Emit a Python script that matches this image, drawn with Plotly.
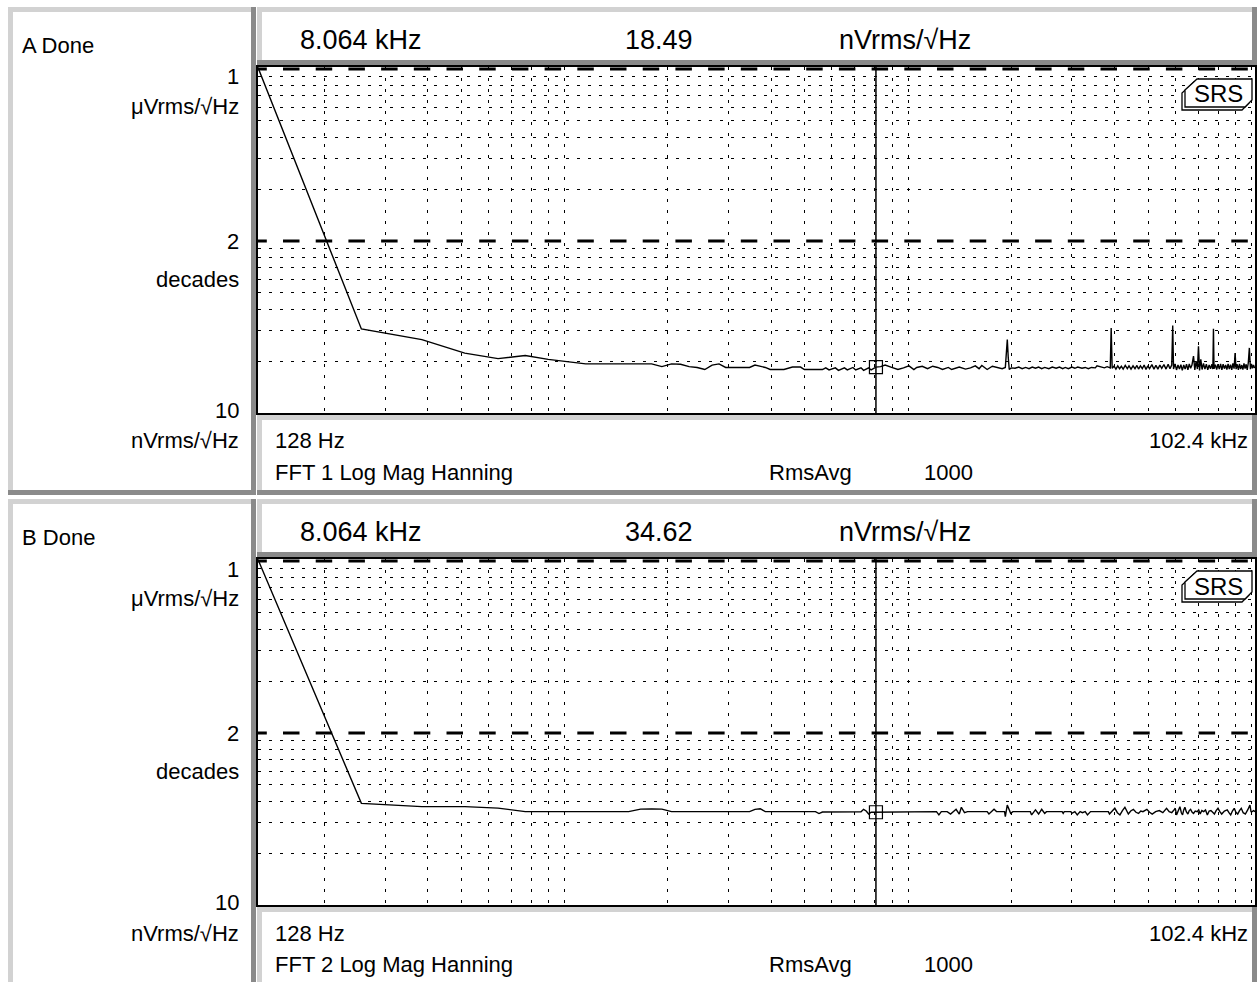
import math
import plotly.graph_objects as go

W, H = 1257, 982
FONT = "Liberation Sans, Arial, Helvetica, sans-serif"

# ---------------- data ----------------
start_hz = 128
stop_hz = 102400
cursor_hz = 8064
cursor_val_a = 18.49
cursor_val_b = 34.62
decade_levels = [100, 1000]
y_grid_vals = [20, 30, 40, 50, 60, 70, 80, 90, 200, 300, 400, 500, 600, 700, 800, 900]
x_grid_vals = [200, 300, 400, 500, 600, 700, 800, 900,
               1000, 2000, 3000, 4000, 5000, 6000, 7000, 8000, 9000,
               10000, 20000, 30000, 40000, 50000, 60000, 70000, 80000, 90000, 100000]

freq_a = [128, 256, 384, 512, 640, 768, 896, 1024, 1152, 1792, 1920, 2048, 2176, 2304, 2432, 2560,
          2688, 2816, 2944, 3456, 3584, 3840, 3968, 4352, 4608, 4864, 4992, 5632, 5760, 5888, 6144,
          6272, 6528, 6656, 6912, 7040, 7296, 7424, 7680, 7808, 8064, 8320, 8576, 8960, 9344, 9700,
          10060, 10400, 10600, 11000, 11400, 11800, 12200, 12600, 13100, 13400, 14100, 14700, 15200,
          15700, 16100, 16400, 17000, 17600, 18200, 18800, 19200, 19456, 19584, 19712, 19968, 20500,
          21000, 21500, 22000, 22500, 23000, 23500, 24000, 24500, 25000, 25700, 26300, 27000, 27600,
          28200, 28700, 29300, 30000, 30600, 31200, 32100, 32800, 33500, 34200, 35100, 35500, 36500,
          37300, 38000, 38800, 39040, 39300, 39800, 40300, 40800, 41300, 41800, 42300, 42900, 43500,
          44000, 44600, 45200, 45800, 46400, 46900, 47500, 48100, 48700, 49300, 49900, 50500, 51300,
          52000, 52700, 53400, 54100, 54800, 55600, 56400, 57200, 57900, 58600, 58980, 59300, 59900,
          60500, 61100, 61700, 62300, 62900, 63500, 64100, 64700, 65300, 65900, 66500, 67100, 67800,
          68400, 69000, 69600, 70100, 70600, 71200, 71800, 72500, 73200, 73900, 74600, 75300, 76000,
          76700, 77200, 77500, 77800, 78500, 79200, 79900, 80600, 81300, 82000, 82700, 83400, 84100,
          84800, 85500, 86200, 86900, 87600, 88300, 89000, 89600, 90200, 90900, 91600, 92300, 93000,
          93700, 94400, 95100, 95800, 96500, 97200, 97900, 98600, 99300, 100000, 100700, 101400,
          102000, 102400]
mag_a = [1020, 30.8, 26.7, 22.3, 20.7, 21.6, 20.5, 19.8, 19.3, 19.3, 18.6, 19.3, 19.2, 18.6, 18.4, 17.9,
         19.0, 19.3, 18.4, 18.4, 19.0, 18.4, 17.9, 17.9, 18.5, 18.5, 17.9, 17.9, 18.3, 17.8, 18.3,
         17.7, 18.3, 17.8, 18.4, 17.8, 18.3, 17.7, 18.3, 17.8, 18.49, 18.6, 19.0, 18.4, 17.9, 18.3,
         18.8, 17.9, 18.4, 18.7, 18.1, 18.7, 18.4, 17.9, 18.4, 17.9, 18.5, 18.0, 18.3,
         18.8, 18.1, 18.9, 17.9, 18.7, 18.3, 18.1, 18.4, 26.7, 20.9, 17.9, 18.3, 18.2,
         18.5, 18.1, 18.4, 18.1, 18.5, 18.2, 18.5, 18.1, 18.4, 18.1, 18.5, 18.2, 18.5,
         18.1, 18.4, 18.1, 18.5, 18.2, 18.5, 18.2, 18.4, 18.1, 18.4, 18.3, 18.8, 18.5,
         18.3, 18.6, 18.3, 31.2, 18.2, 18.7, 18.0, 18.8, 18.1, 18.7, 18.0, 18.9, 18.1,
         18.8, 18.0, 18.8, 18.1, 18.9, 18.0, 18.8, 18.1, 19.0, 17.9, 18.8, 18.1, 19.1,
         18.0, 18.9, 18.0, 19.0, 18.2, 19.1, 18.0, 19.2, 18.1, 19.0, 32.3, 18.0, 19.3,
         17.8, 19.0, 18.0, 19.1, 17.7, 19.0, 18.0, 19.2, 17.8, 19.3, 18.2, 19.0, 21.4,
         17.8, 20.0, 18.0, 24.4, 17.7, 20.5, 17.9, 19.4, 18.0, 19.2, 17.8, 19.0, 18.1,
         19.2, 18.0, 30.9, 18.1, 19.1, 17.9, 19.2, 18.0, 19.3, 17.8, 19.2, 18.1, 19.0,
         17.9, 19.3, 18.0, 19.1, 17.8, 19.4, 18.1, 22.3, 18.0, 19.2, 17.8, 19.3, 18.0,
         19.0, 17.9, 19.4, 18.1, 19.2, 17.8, 19.6, 23.9, 18.0, 19.3, 18.2, 19.0,
         18.3, 18.6]

freq_b = [128, 256, 384, 512, 640, 768, 1536, 1664, 1792, 1920, 2048, 3456, 3584, 3712, 3840, 5376,
          5504, 5632, 7296, 7424, 7552, 7680, 7808, 8064, 8192, 12100, 12300, 12500, 13000, 13300,
          13800, 14100, 14300, 14600, 14900, 17000, 17200, 17800, 18100, 19100, 19200, 19450, 19900,
          20200, 22700, 22900, 23500, 24000, 24500, 25000, 25300, 28100, 28300, 28500, 29800, 30000,
          30600, 31100, 31700, 32200, 32800, 33300, 34000, 38300, 38600, 39300, 40000, 40700, 41400,
          42100, 42800, 43800, 44500, 45300, 46100, 46900, 47600, 48300, 49600, 50500, 51400, 52600,
          53900, 55200, 56600, 57600, 58600, 59300, 60000, 60500, 61200, 61900, 62500, 63000, 63500,
          64000, 64600, 65300, 65900, 66500, 67200, 67800, 68600, 69500, 70200, 70900, 71700, 72600,
          73500, 74400, 75300, 76200, 77100, 78000, 78900, 79900, 80900, 81900, 83400, 85000, 86000,
          87000, 88000, 89100, 90100, 91200, 92300, 93400, 94600, 96000, 97500, 99000, 99700, 100500,
          101500, 102400]
mag_b = [1020, 39.0, 37.3, 37.3, 36.6, 34.9, 34.9, 36.1, 36.2, 36.1, 34.9, 34.9, 36.0, 36.3, 34.9, 34.9,
         34.0, 34.7, 34.8, 36.0, 35.2, 33.8, 34.6, 34.62, 34.9, 34.9, 33.4, 34.9, 34.9, 33.8,
         36.0, 33.8, 37.0, 34.4, 34.9, 34.9, 33.8, 36.0, 34.9, 34.9, 32.6, 38.1, 34.1,
         34.9, 34.9, 33.4, 35.7, 33.8, 36.0, 34.1, 34.9, 34.9, 34.1, 34.9, 34.9, 34.1,
         34.9, 33.4, 34.9, 34.4, 34.9, 33.4, 34.9, 34.9, 33.8, 35.2, 36.5, 34.4, 33.4,
         35.4, 37.0, 33.8, 35.2, 36.0, 34.6, 34.1, 35.2, 34.9, 36.0, 34.6, 33.8, 34.9,
         35.4, 34.4, 36.5, 34.9, 34.4, 35.4, 36.5, 33.4, 35.2, 37.3, 34.4, 33.4, 35.7,
         37.0, 34.9, 33.8, 35.4, 36.0, 34.6, 34.1, 35.2, 34.9, 35.7, 33.8, 35.4, 34.9,
         35.7, 33.4, 35.2, 35.4, 34.6, 33.8, 35.4, 36.5, 34.9, 33.8, 35.2, 35.7, 34.4,
         33.4, 35.2, 36.5, 34.6, 33.8, 35.4, 36.5, 34.4, 33.8, 35.7, 38.1, 34.9, 34.9,
         35.4, 34.9]

# ---------------- layout helpers (pixel -> paper) ----------------
def X(px):
    return px / W


def Y(py):
    return 1 - py / H


PLOT_L, PLOT_R = 258, 1255
PLOT_T, PLOT_B = 66.5, 413          # panel A, B is shifted by OFF
OFF = 492
DEC_PX = 172
y_top_log = 1 + (PLOT_B - PLOT_T) / DEC_PX
dash_start_hz = start_hz * 10 ** (-7.7 / 344)

LIGHT = "#d2d2d2"
DARK = "#8a8a8a"

fig = go.Figure()
shapes = []
annotations = []


def bevel(x0, y0, x1, y1, w=5):
    shapes.extend([
        dict(type="rect", xref="paper", yref="paper", x0=X(x0), x1=X(x1), y0=Y(y0), y1=Y(y0 + w),
             fillcolor=LIGHT, line=dict(width=0), layer="above"),
        dict(type="rect", xref="paper", yref="paper", x0=X(x0), x1=X(x0 + w), y0=Y(y0), y1=Y(y1),
             fillcolor=LIGHT, line=dict(width=0), layer="above"),
        dict(type="rect", xref="paper", yref="paper", x0=X(x0), x1=X(x1), y0=Y(y1 - w), y1=Y(y1),
             fillcolor=DARK, line=dict(width=0), layer="above"),
        dict(type="rect", xref="paper", yref="paper", x0=X(x1 - w), x1=X(x1), y0=Y(y0), y1=Y(y1),
             fillcolor=DARK, line=dict(width=0), layer="above"),
    ])


def text(s, x, y, size=22, anchor="left"):
    annotations.append(dict(text=s, x=X(x), y=Y(y), xref="paper", yref="paper", xanchor=anchor,
                            yanchor="middle", showarrow=False,
                            font=dict(family=FONT, size=size, color="black")))


def path(pts):
    d = "M " + " L ".join(f"{X(a):.5f},{Y(b):.5f}" for a, b in pts) + " Z"
    return d


panels = [
    dict(off=0, freq=freq_a, mag=mag_a, cur=cursor_val_a, label="A Done",
         fft="FFT 1 Log Mag Hanning", xa="x", ya="y", xname="xaxis", yname="yaxis"),
    dict(off=OFF, freq=freq_b, mag=mag_b, cur=cursor_val_b, label="B Done",
         fft="FFT 2 Log Mag Hanning", xa="x2", ya="y2", xname="xaxis2", yname="yaxis2"),
]

for p in panels:
    o = p["off"]
    # bevel boxes
    bevel(8, 7 + o, 256, 495 + o)
    bevel(257, 7 + o, 1257, 65 + o)
    bevel(257, 415 + o, 1257, 495 + o)

    axis_common = dict(showticklabels=False, ticks="", showgrid=True, gridcolor="black",
                       gridwidth=1, zeroline=False, showline=True, linecolor="black",
                       linewidth=2, mirror=True, fixedrange=True)
    fig.update_layout(**{
        p["xname"]: dict(type="log", range=[math.log10(start_hz), math.log10(stop_hz)],
                         domain=[X(PLOT_L), X(PLOT_R)], tickvals=x_grid_vals,
                         griddash="3px,8px", anchor=p["ya"], **axis_common),
        p["yname"]: dict(type="log", range=[1, y_top_log],
                         domain=[Y(PLOT_B + o), Y(PLOT_T + o)], tickvals=y_grid_vals,
                         griddash="3px,8px", anchor=p["xa"], **axis_common),
    })

    # dashed decade lines
    for lvl in decade_levels:
        fig.add_trace(go.Scatter(x=[dash_start_hz, stop_hz * 1.05], y=[lvl, lvl], mode="lines",
                                 line=dict(color="black", width=3, dash="16.5px,16.2px"),
                                 xaxis=p["xa"], yaxis=p["ya"], hoverinfo="skip", showlegend=False))
    # cursor line
    fig.add_trace(go.Scatter(x=[cursor_hz, cursor_hz], y=[10, 10 ** y_top_log], mode="lines",
                             line=dict(color="black", width=1.5), xaxis=p["xa"], yaxis=p["ya"],
                             hoverinfo="skip", showlegend=False))
    # spectrum
    fig.add_trace(go.Scatter(x=p["freq"], y=p["mag"], mode="lines",
                             line=dict(color="black", width=1.4), xaxis=p["xa"], yaxis=p["ya"],
                             showlegend=False))
    # cursor marker
    fig.add_trace(go.Scatter(x=[cursor_hz], y=[p["cur"]], mode="markers",
                             marker=dict(symbol="square-open", size=13, color="black",
                                         line=dict(width=1.2)),
                             xaxis=p["xa"], yaxis=p["ya"], showlegend=False))

    # texts
    text(p["label"], 20, 45 + o)
    text("8.064 kHz", 298, 40 + o, size=27)
    text(f"{p['cur']:.2f}", 659, 40 + o, size=27, anchor="center")
    text("nVrms/√Hz", 837, 40 + o, size=27)
    text("1", 241, 77 + o, anchor="right")
    text("μVrms/√Hz", 241, 106 + o, anchor="right")
    text("2", 241, 241 + o, anchor="right")
    text("decades", 241, 279 + o, anchor="right")
    text("10", 241, 410 + o, anchor="right")
    text("nVrms/√Hz", 241, 441 + o, anchor="right")
    text("128 Hz", 273, 441 + o)
    text("102.4 kHz", 1250, 441 + o, anchor="right")
    text(p["fft"], 273, 472 + o)
    text("RmsAvg", 767, 472 + o)
    text("1000", 922, 472 + o)

    # SRS logo
    front = [(1197, 79 + o), (1252, 79 + o), (1252, 100 + o), (1245, 107 + o), (1185, 107 + o),
             (1185, 90 + o)]
    back = [(a - 3, b + 3) for a, b in front]
    shapes.append(dict(type="path", xref="paper", yref="paper", path=path(back),
                       line=dict(color="black", width=1.3), fillcolor="white", layer="above"))
    shapes.append(dict(type="path", xref="paper", yref="paper", path=path(front),
                       line=dict(color="black", width=1.3), fillcolor="white", layer="above"))
    text("SRS", 1218, 94 + o, size=24, anchor="center")

fig.update_layout(width=W, height=H, margin=dict(l=0, r=0, t=0, b=0),
                  paper_bgcolor="white", plot_bgcolor="white", showlegend=False,
                  shapes=shapes, annotations=annotations)

fig.write_html("out.html", config={"displayModeBar": False},
               post_script="document.body.style.margin='0';document.body.style.overflow='hidden';")
